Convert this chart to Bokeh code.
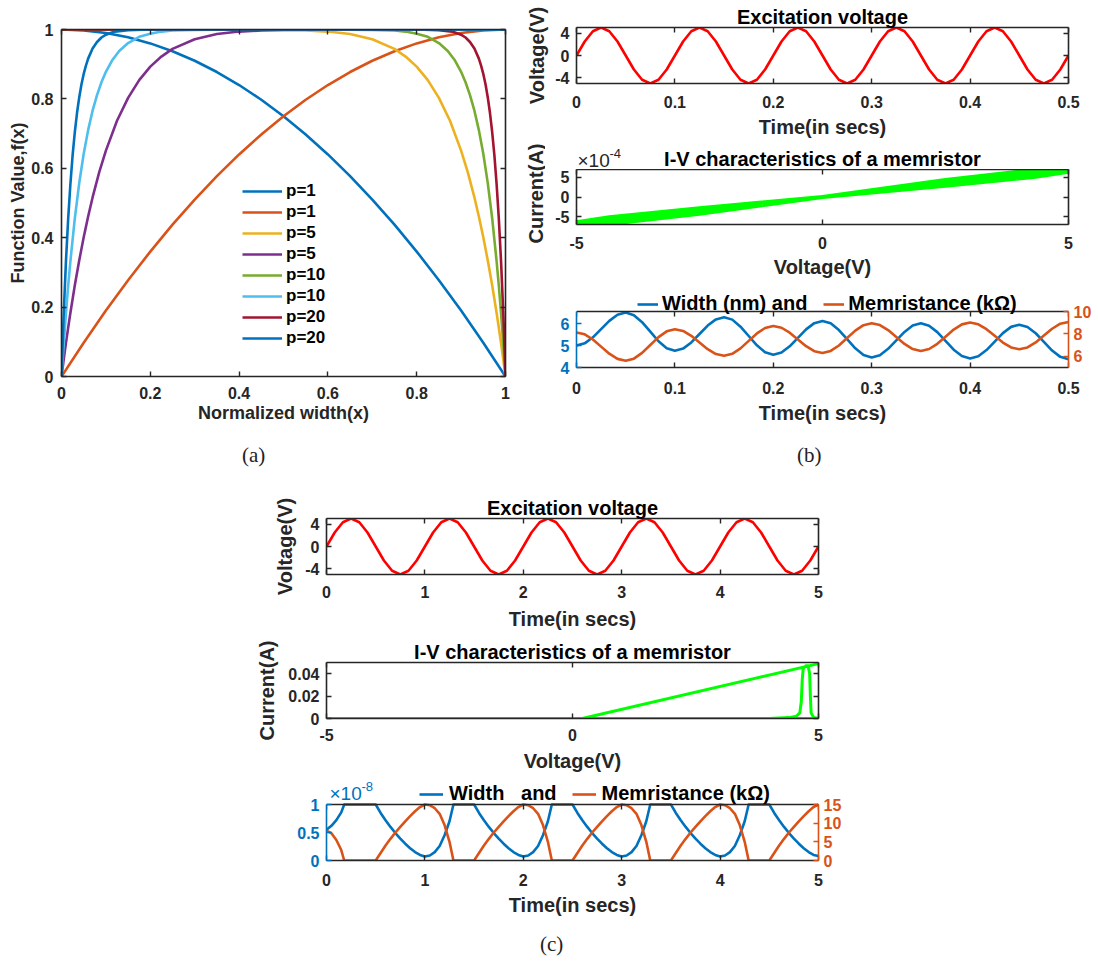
from bokeh.plotting import figure
from bokeh.models import (Range1d, LinearAxis, FixedTicker, NumeralTickFormatter,
                          CustomJSTickFormatter, Legend, LegendItem, Label, Div, Spacer)
from bokeh.layouts import column, row
from bokeh.embed import file_html
from bokeh.resources import INLINE

NAN = float("nan")
FONT = "Liberation Sans"
AX = "#262626"
BLUE = "#0072BD"; ORANGE = "#D95319"; YELLOW = "#EDB120"; PURPLE = "#7E2F8E"
GREEN = "#77AC30"; LBLUE = "#4DBEEE"; DRED = "#A2142F"; RED = "#FF0000"; LIME = "#00FF00"

# ---------------- panel (a): window functions ----------------
a_labels = ["p=1", "p=1", "p=5", "p=5", "p=10", "p=10", "p=20", "p=20"]
x_p1 = [0, 0.05, 0.1, 0.15, 0.2, 0.25, 0.3, 0.35, 0.4, 0.45, 0.5, 0.55, 0.6, 0.65, 0.7, 0.75,
        0.8, 0.85, 0.9, 0.95, 1.0]
f_p1_fall = [1, 0.9975, 0.99, 0.9775, 0.96, 0.9375, 0.91, 0.8775, 0.84, 0.7975, 0.75, 0.6975,
             0.64, 0.5775, 0.51, 0.4375, 0.36, 0.2775, 0.19, 0.0975, 0]
f_p1_rise = [0, 0.0975, 0.19, 0.2775, 0.36, 0.4375, 0.51, 0.5775, 0.64, 0.6975, 0.75, 0.7975,
             0.84, 0.8775, 0.91, 0.9375, 0.96, 0.9775, 0.99, 0.9975, 1]
x_p5_fall = [0, 0.4, 0.5, 0.55, 0.6, 0.65, 0.7, 0.75, 0.775, 0.8, 0.825, 0.85, 0.875, 0.9, 0.915,
             0.93, 0.94, 0.95, 0.96, 0.97, 0.98, 0.985, 0.99, 0.995, 1.0]
f_p5_fall = [1, 1, 0.999, 0.997, 0.994, 0.987, 0.972, 0.944, 0.922, 0.893, 0.854, 0.803, 0.737,
             0.651, 0.589, 0.516, 0.461, 0.401, 0.335, 0.263, 0.183, 0.140, 0.096, 0.049, 0]
x_p5_rise = [0, 0.005, 0.01, 0.015, 0.02, 0.03, 0.04, 0.05, 0.06, 0.07, 0.085, 0.1, 0.125, 0.15,
             0.175, 0.2, 0.225, 0.25, 0.3, 0.35, 0.4, 0.45, 0.5, 0.6, 1.0]
f_p5_rise = [0, 0.049, 0.096, 0.140, 0.183, 0.263, 0.335, 0.401, 0.461, 0.516, 0.589, 0.651,
             0.737, 0.803, 0.854, 0.893, 0.922, 0.944, 0.972, 0.987, 0.994, 0.997, 0.999, 1, 1]
x_p10_fall = [0, 0.5, 0.6, 0.7, 0.75, 0.775, 0.8, 0.825, 0.85, 0.87, 0.885, 0.9, 0.91, 0.92,
              0.93, 0.94, 0.95, 0.96, 0.97, 0.98, 0.985, 0.99, 0.995, 1.0]
f_p10_fall = [1, 1, 1, 0.999, 0.997, 0.994, 0.988, 0.979, 0.961, 0.938, 0.913, 0.878, 0.848,
              0.811, 0.766, 0.710, 0.642, 0.558, 0.456, 0.332, 0.261, 0.182, 0.095, 0]
x_p10_rise = [0, 0.005, 0.01, 0.015, 0.02, 0.03, 0.04, 0.05, 0.06, 0.07, 0.08, 0.09, 0.1, 0.115,
              0.13, 0.15, 0.175, 0.2, 0.225, 0.25, 0.3, 0.4, 0.5, 1.0]
f_p10_rise = [0, 0.095, 0.182, 0.261, 0.332, 0.456, 0.558, 0.642, 0.710, 0.766, 0.811, 0.848,
              0.878, 0.913, 0.938, 0.961, 0.979, 0.988, 0.994, 0.997, 0.999, 1, 1, 1]
x_p20_fall = [0, 0.7, 0.8, 0.85, 0.88, 0.9, 0.91, 0.92, 0.93, 0.94, 0.945, 0.95, 0.955, 0.96,
              0.965, 0.97, 0.975, 0.98, 0.985, 0.99, 0.995, 1.0]
f_p20_fall = [1, 1, 1, 0.998, 0.994, 0.985, 0.977, 0.964, 0.945, 0.916, 0.896, 0.872, 0.842,
              0.805, 0.760, 0.704, 0.637, 0.554, 0.454, 0.331, 0.182, 0]
x_p20_rise = [0, 0.005, 0.01, 0.015, 0.02, 0.025, 0.03, 0.035, 0.04, 0.045, 0.05, 0.055, 0.06,
              0.07, 0.08, 0.09, 0.1, 0.12, 0.15, 0.2, 0.3, 1.0]
f_p20_rise = [0, 0.182, 0.331, 0.454, 0.554, 0.637, 0.704, 0.760, 0.805, 0.842, 0.872, 0.896,
              0.916, 0.945, 0.964, 0.977, 0.985, 0.994, 0.998, 1, 1, 1]
a_ticks = [0, 0.2, 0.4, 0.6, 0.8, 1]

# ---------------- panel (b): 0.5 s simulation ----------------
time_b = [round(k / 120, 5) for k in range(61)]
exc_voltage = [0, 2.5, 4.33, 5, 4.33, 2.5, 0, -2.5, -4.33, -5, -4.33, -2.5,
               0, 2.5, 4.33, 5, 4.33, 2.5, 0, -2.5, -4.33, -5, -4.33, -2.5,
               0, 2.5, 4.33, 5, 4.33, 2.5, 0, -2.5, -4.33, -5, -4.33, -2.5,
               0, 2.5, 4.33, 5, 4.33, 2.5, 0, -2.5, -4.33, -5, -4.33, -2.5,
               0, 2.5, 4.33, 5, 4.33, 2.5, 0, -2.5, -4.33, -5, -4.33, -2.5, 0]
current_b_e4 = [0, 3.14, 5.77, 7.28, 6.95, 4.33, 0, -4.32, -6.87, -7.13, -5.61, -3.04,
                0, 3.03, 5.53, 6.92, 6.53, 4.03, 0, -4.02, -6.45, -6.78, -5.39, -2.93,
                0, 2.92, 5.34, 6.66, 6.28, 3.87, 0, -3.86, -6.22, -6.55, -5.22, -2.85,
                0, 2.84, 5.19, 6.48, 6.10, 3.76, 0, -3.76, -6.09, -6.45, -5.16, -2.82,
                0, 2.82, 5.14, 6.39, 5.99, 3.68, 0, -3.68, -5.98, -6.37, -5.12, -2.81, 0]
width_b_nm = [5.0, 5.10, 5.375, 5.75, 6.125, 6.40, 6.5,
              6.38, 6.065, 5.63, 5.195, 4.88, 4.76,
              4.86, 5.14, 5.525, 5.91, 6.19, 6.29,
              6.18, 5.86, 5.435, 5.01, 4.69, 4.58,
              4.68, 4.965, 5.35, 5.735, 6.02, 6.12,
              6.01, 5.705, 5.29, 4.875, 4.57, 4.46,
              4.56, 4.85, 5.235, 5.62, 5.91, 6.01,
              5.90, 5.61, 5.21, 4.81, 4.52, 4.41,
              4.51, 4.795, 5.18, 5.565, 5.85, 5.95,
              5.845, 5.56, 5.165, 4.77, 4.485, 4.38]
memristance_b_k = [8.13, 7.96, 7.50, 6.865, 6.23, 5.77, 5.6,
                   5.79, 6.305, 7.01, 7.715, 8.23, 8.42,
                   8.26, 7.825, 7.23, 6.635, 6.20, 6.04,
                   6.22, 6.71, 7.375, 8.04, 8.53, 8.71,
                   8.55, 8.11, 7.505, 6.90, 6.46, 6.3,
                   6.48, 6.965, 7.63, 8.295, 8.78, 8.96,
                   8.79, 8.34, 7.72, 7.10, 6.65, 6.48,
                   6.65, 7.115, 7.75, 8.385, 8.85, 9.02,
                   8.86, 8.42, 7.825, 7.23, 6.79, 6.63,
                   6.79, 7.24, 7.85, 8.46, 8.91, 9.07]

# ---------------- panel (c): 5 s simulation ----------------
time_c = [round(k / 12, 4) for k in range(61)]
iv_c_voltage = [-5, 5, NAN, 0.2, 5, NAN, 4.0, 4.4, 4.55, 4.62, 4.65, 4.67, 4.69, 4.74, 4.79,
                4.82, 4.835, 4.85, 4.9, 5.0]
iv_c_current = [0, 0, NAN, 0, 0.049, NAN, 0, 0.0008, 0.002, 0.005, 0.015, 0.035, 0.045, 0.047,
                0.047, 0.04, 0.02, 0.005, 0.001, 0]
time_c3 = [0, 0.05, 0.1, 0.15, 0.18, 0.5, 0.55, 0.6, 0.65, 0.7, 0.75, 0.8, 0.85, 0.9, 0.95, 1.0,
           1.05, 1.1, 1.15, 1.2, 1.25, 1.29, 1.5, 1.55, 1.6, 1.65, 1.7, 1.75, 1.8, 1.85, 1.9, 1.95, 2.0,
           2.05, 2.1, 2.15, 2.2, 2.25, 2.29, 2.5, 2.55, 2.6, 2.65, 2.7, 2.75, 2.8, 2.85, 2.9, 2.95, 3.0,
           3.05, 3.1, 3.15, 3.2, 3.25, 3.29, 3.5, 3.55, 3.6, 3.65, 3.7, 3.75, 3.8, 3.85, 3.9, 3.95, 4.0,
           4.05, 4.1, 4.15, 4.2, 4.25, 4.29, 4.5, 4.55, 4.6, 4.65, 4.7, 4.75, 4.8, 4.85, 4.9, 4.95, 5.0]
width_c_e8 = [0.55, 0.62, 0.72, 0.86, 1.0, 1.0, 0.85, 0.72, 0.60, 0.49, 0.39, 0.30, 0.22, 0.15, 0.10, 0.07,
              0.09, 0.15, 0.26, 0.45, 0.70, 1.0, 1.0, 0.85, 0.72, 0.60, 0.49, 0.39, 0.30, 0.22, 0.15, 0.10, 0.07,
              0.09, 0.15, 0.26, 0.45, 0.70, 1.0, 1.0, 0.85, 0.72, 0.60, 0.49, 0.39, 0.30, 0.22, 0.15, 0.10, 0.07,
              0.09, 0.15, 0.26, 0.45, 0.70, 1.0, 1.0, 0.85, 0.72, 0.60, 0.49, 0.39, 0.30, 0.22, 0.15, 0.10, 0.07,
              0.09, 0.15, 0.26, 0.45, 0.70, 1.0, 1.0, 0.85, 0.72, 0.60, 0.49, 0.39, 0.30, 0.22, 0.15, 0.10, 0.08]
memristance_c_k = [8.0, 7.3, 5.5, 2.8, 0, 0, 2.0, 4.0, 5.8, 7.5, 9.0, 10.5, 11.9, 13.2, 14.3, 15.0,
                   14.8, 14.0, 12.5, 9.5, 5.0, 0, 0, 2.0, 4.0, 5.8, 7.5, 9.0, 10.5, 11.9, 13.2, 14.3, 15.0,
                   14.8, 14.0, 12.5, 9.5, 5.0, 0, 0, 2.0, 4.0, 5.8, 7.5, 9.0, 10.5, 11.9, 13.2, 14.3, 15.0,
                   14.8, 14.0, 12.5, 9.5, 5.0, 0, 0, 2.0, 4.0, 5.8, 7.5, 9.0, 10.5, 11.9, 13.2, 14.3, 15.0,
                   14.8, 14.0, 12.5, 9.5, 5.0, 0, 0, 2.0, 4.0, 5.8, 7.5, 9.0, 10.5, 11.9, 13.2, 14.3, 15.0]

EMPTY = CustomJSTickFormatter(code="return ''")
LBL = "20px"


def style_axis(ax, ticks, fmt, color=AX, label=None, std=8, lstd=5, hidden=False, lsize=LBL):
    ax.ticker = FixedTicker(ticks=ticks, minor_ticks=[])
    ax.axis_line_color = color
    ax.axis_line_width = 1.6
    ax.major_tick_line_color = color
    ax.major_tick_line_width = 1.4
    ax.major_tick_in = 5
    ax.major_tick_out = 0
    ax.minor_tick_line_color = None
    if hidden:
        ax.formatter = EMPTY
        ax.major_label_text_font_size = "1px"
        ax.major_label_standoff = 0
    else:
        ax.formatter = NumeralTickFormatter(format=fmt)
        ax.major_label_text_font = FONT
        ax.major_label_text_font_style = "bold"
        ax.major_label_text_font_size = "16px"
        ax.major_label_text_color = color
        ax.major_label_standoff = std
    if label:
        ax.axis_label = label
        ax.axis_label_text_font = FONT
        ax.axis_label_text_font_style = "bold"
        ax.axis_label_text_font_size = lsize
        ax.axis_label_text_color = AX
        ax.axis_label_standoff = lstd


def make_fig(fw, fh, left, right, top, bottom, xr, yr):
    p = figure(frame_width=fw, frame_height=fh, min_border_left=left, min_border_right=right,
               min_border_top=top, min_border_bottom=bottom, x_range=Range1d(*xr),
               y_range=Range1d(*yr), output_backend="svg", toolbar_location=None)
    p.outline_line_color = None
    p.xgrid.visible = False
    p.ygrid.visible = False
    p.background_fill_color = "white"
    p.border_fill_color = "white"
    return p


def make_blank(fw, fh, left, right, xr):
    """Axis-less strip used for a heading and a rotated axis title."""
    p = figure(frame_width=fw, frame_height=fh, min_border_left=left, min_border_right=right,
               min_border_top=0, min_border_bottom=0, x_range=Range1d(*xr),
               y_range=Range1d(0, fh), x_axis_location=None, y_axis_location=None,
               output_backend="svg", toolbar_location=None)
    p.outline_line_color = None
    p.xgrid.visible = False
    p.ygrid.visible = False
    p.background_fill_color = "white"
    p.border_fill_color = "white"
    return p


def box(p, xt, yt, right_axis=True, top_at=None):
    top = LinearAxis()
    style_axis(top, xt, "0", hidden=True)
    if top_at is not None:
        top.fixed_location = top_at
    p.add_layout(top, "above")
    if right_axis:
        r = LinearAxis()
        style_axis(r, yt, "0", hidden=True)
        p.add_layout(r, "right")


def set_title(p, text):
    p.title.text = text
    p.title.align = "center"
    p.title.text_font = FONT
    p.title.text_font_style = "bold"
    p.title.text_font_size = LBL
    p.title.text_color = "#000000"
    p.title.standoff = 0


def legend(items, loc, spacing, gw, standoff):
    return Legend(items=items, location=loc, orientation="horizontal", padding=0, margin=0,
                  spacing=spacing, label_height=22, glyph_height=22, glyph_width=gw,
                  label_standoff=standoff, background_fill_alpha=0, border_line_color=None,
                  label_text_font=FONT, label_text_font_style="bold",
                  label_text_font_size=LBL, label_text_color="#000000")


# ---------------- figure (a) ----------------
pa = make_fig(444, 347, 61, 10, 29, 49, (0, 1), (0, 1))
style_axis(pa.xaxis[0], a_ticks, "0.[0]", label="Normalized width(x)", std=10, lstd=1,
           lsize="18px")
style_axis(pa.yaxis[0], a_ticks, "0.[0]", label="Function Value,f(x)", std=8, lstd=0,
           lsize="18px")
box(pa, a_ticks, a_ticks)
series_a = [(x_p1, f_p1_fall, BLUE), (x_p1, f_p1_rise, ORANGE),
            (x_p5_fall, f_p5_fall, YELLOW), (x_p5_rise, f_p5_rise, PURPLE),
            (x_p10_fall, f_p10_fall, GREEN), (x_p10_rise, f_p10_rise, LBLUE),
            (x_p20_fall, f_p20_fall, DRED), (x_p20_rise, f_p20_rise, BLUE)]
items = []
for (xs, ys, c), lab in zip(series_a, a_labels):
    r = pa.line(xs, ys, line_color=c, line_width=2.6, line_join="round")
    items.append(LegendItem(label=lab, renderers=[r]))
leg_a = Legend(items=items, location=(181, 28), orientation="vertical", padding=0, margin=0,
               spacing=1, label_height=20, glyph_height=20, glyph_width=40, label_standoff=4,
               background_fill_alpha=0, border_line_color=None,
               label_text_font=FONT, label_text_font_style="bold", label_text_font_size="17px",
               label_text_color="#000000")
pa.add_layout(leg_a)

# ---------------- figure (b1) ----------------
tb_ticks = [0, 0.1, 0.2, 0.3, 0.4, 0.5]
b1 = make_fig(492, 56, 61, 28, 27, 58, (0, 0.5), (-5, 5))
set_title(b1, "Excitation voltage")
style_axis(b1.xaxis[0], tb_ticks, "0.[0]", label="Time(in secs)", std=12, lstd=5)
style_axis(b1.yaxis[0], [-4, 0, 4], "0", label="Voltage(V)", std=7, lstd=4)
box(b1, tb_ticks, [-4, 0, 4])
b1.line(time_b, exc_voltage, line_color=RED, line_width=2.6, line_join="round")

# ---------------- figure (b2): heading strip + rotated y title strip ----------------
b2h = make_blank(492, 28, 31, 28, (-5, 5))
b2h.add_layout(Label(x=0, y=11, text="I-V characteristics of a memristor", text_font=FONT,
                     text_font_style="bold", text_font_size=LBL, text_color="#000000",
                     text_align="center", text_baseline="middle"))
b2h.add_layout(Label(x=-5, y=9.5, text="×10", text_font=FONT, text_font_size="19px",
                     text_color=AX, text_align="left", text_baseline="middle", x_offset=1))
b2h.add_layout(Label(x=-5, y=16, text="-4", text_font=FONT, text_font_size="13px",
                     text_color=AX, text_align="left", text_baseline="middle", x_offset=33))
b2 = make_fig(492, 55, 31, 28, 0, 62, (-5, 5), (-7, 7))
style_axis(b2.xaxis[0], [-5, 0, 5], "0", label="Voltage(V)", std=12, lstd=4)
style_axis(b2.yaxis[0], [-5, 0, 5], "0", std=7)
box(b2, [-5, 0, 5], [-5, 0, 5])
b2.line(exc_voltage, current_b_e4, line_color=LIME, line_width=3.8, line_join="round")
b2y = make_blank(30, 146, 0, 0, (0, 30))
b2y.add_layout(Label(x=20, y=94, text="Current(A)", text_font=FONT, text_font_style="bold",
                     text_font_size=LBL, text_color=AX, angle=90, angle_units="deg",
                     text_align="center", text_baseline="middle"))

# ---------------- figure (b3): frame extended upward to hold the legend ----------------
B3_EXTRA = 24 / 56  # share of the axes height added above the box for the legend
b3 = make_fig(492, 80, 61, 28, 0, 60, (0, 0.5), (4, 6.55 + 2.55 * B3_EXTRA))
b3.extra_y_ranges = {"mem": Range1d(5, 10 + 5 * B3_EXTRA)}
style_axis(b3.xaxis[0], tb_ticks, "0.[0]", label="Time(in secs)", std=14, lstd=5)
style_axis(b3.yaxis[0], [4, 5, 6], "0", color=BLUE, std=7)
b3.yaxis[0].bounds = (4, 6.55)
rax = LinearAxis(y_range_name="mem", bounds=(5, 10))
style_axis(rax, [6, 8, 10], "0", color=ORANGE, std=5)
b3.add_layout(rax, "right")
box(b3, tb_ticks, None, right_axis=False, top_at=6.55)
rw = b3.line(time_b, width_b_nm, line_color=BLUE, line_width=2.6, line_join="round")
rm = b3.line(time_b, memristance_b_k, line_color=ORANGE, line_width=2.6, line_join="round",
             y_range_name="mem")
b3.add_layout(legend([LegendItem(label="Width (nm) and", renderers=[rw]),
                      LegendItem(label="Memristance (kΩ)", renderers=[rm])],
                     (61, 52), 16, 21, 4))

# ---------------- figure (c1) ----------------
tc_ticks = [0, 1, 2, 3, 4, 5]
c1 = make_fig(492, 56, 67, 30, 28, 60, (0, 5), (-5, 5))
set_title(c1, "Excitation voltage")
style_axis(c1.xaxis[0], tc_ticks, "0", label="Time(in secs)", std=11, lstd=7)
style_axis(c1.yaxis[0], [-4, 0, 4], "0", label="Voltage(V)", std=7, lstd=6)
box(c1, tc_ticks, [-4, 0, 4])
c1.line(time_c, exc_voltage, line_color=RED, line_width=2.6, line_join="round")

# ---------------- figure (c2) ----------------
c2 = make_fig(492, 56, 67, 30, 28, 58, (-5, 5), (0, 0.05))
set_title(c2, "I-V characteristics of a memristor")
style_axis(c2.xaxis[0], [-5, 0, 5], "0", label="Voltage(V)", std=10, lstd=6)
style_axis(c2.yaxis[0], [0, 0.02, 0.04], "0.[00]", label="Current(A)", std=7, lstd=7)
box(c2, [-5, 0, 5], [0, 0.02, 0.04])
c2.line(iv_c_voltage, iv_c_current, line_color=LIME, line_width=3, line_join="round")

# ---------------- figure (c3): frame extended upward to hold the legend ----------------
C3_EXTRA = 28 / 56
c3 = make_fig(492, 84, 67, 30, 0, 59, (0, 5), (0, 1 + C3_EXTRA))
c3.extra_y_ranges = {"mem": Range1d(0, 15 * (1 + C3_EXTRA))}
style_axis(c3.xaxis[0], tc_ticks, "0", label="Time(in secs)", std=13, lstd=5)
style_axis(c3.yaxis[0], [0, 0.5, 1], "0.[0]", color=BLUE, std=7)
c3.yaxis[0].bounds = (0, 1)
rax3 = LinearAxis(y_range_name="mem", bounds=(0, 15))
style_axis(rax3, [0, 5, 10, 15], "0", color=ORANGE, std=5)
c3.add_layout(rax3, "right")
box(c3, tc_ticks, None, right_axis=False, top_at=1)
rw3 = c3.line(time_c3, width_c_e8, line_color=BLUE, line_width=2.6, line_join="round")
rm3 = c3.line(time_c3, memristance_c_k, line_color=ORANGE, line_width=2.6, line_join="round",
              y_range_name="mem")
c3.add_layout(legend([LegendItem(label="Width   and", renderers=[rw3]),
                      LegendItem(label="Memristance (kΩ)", renderers=[rm3])],
                     (93, 55), 15, 24, 6))
c3.add_layout(Label(x=0, y=67, y_units="screen", text="×10", text_font=FONT,
                    text_font_size="19px", text_color=BLUE, text_align="left",
                    text_baseline="middle", x_offset=3))
c3.add_layout(Label(x=0, y=74, y_units="screen", text="-8", text_font=FONT,
                    text_font_size="13px", text_color=BLUE, text_align="left",
                    text_baseline="middle", x_offset=35))


def caption(txt, w, h, top):
    return Div(text=f'<div style="font-family:\'Liberation Serif\';font-size:21px;'
                    f'line-height:24px;margin-top:{top}px;color:#222">{txt}</div>',
               width=w, height=h, margin=0)


b_column = column(b1, row(b2y, column(b2h, b2, spacing=0), spacing=0), b3, spacing=0)
layout = column(
    row(pa, b_column, spacing=0),
    row(Spacer(width=242, height=63), caption("(a)", 555, 63, 16), caption("(b)", 60, 63, 16),
        spacing=0),
    row(Spacer(width=253, height=430), column(c1, c2, c3, spacing=0), spacing=0),
    row(Spacer(width=540, height=38), caption("(c)", 60, 38, 12), spacing=0),
    spacing=0,
)

open("out.html", "w").write(file_html(layout, INLINE))
